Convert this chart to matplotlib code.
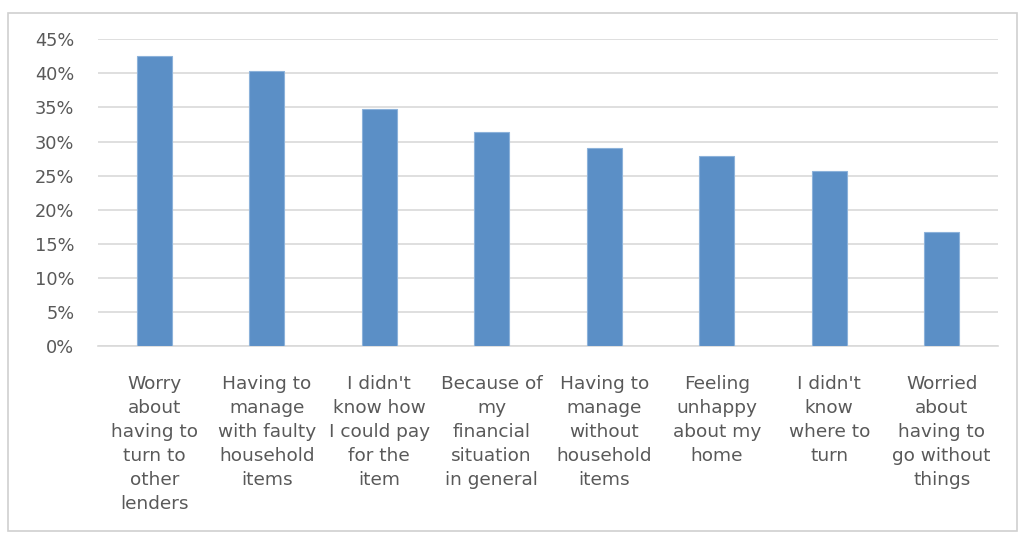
import matplotlib
matplotlib.use("Agg")
import matplotlib.pyplot as plt
from matplotlib.patches import Rectangle
from matplotlib.ticker import FuncFormatter

categories = [
    "Worry\nabout\nhaving to\nturn to\nother\nlenders",
    "Having to\nmanage\nwith faulty\nhousehold\nitems",
    "I didn't\nknow how\nI could pay\nfor the\nitem",
    "Because of\nmy\nfinancial\nsituation\nin general",
    "Having to\nmanage\nwithout\nhousehold\nitems",
    "Feeling\nunhappy\nabout my\nhome",
    "I didn't\nknow\nwhere to\nturn",
    "Worried\nabout\nhaving to\ngo without\nthings",
]
values = [0.426, 0.403, 0.348, 0.314, 0.291, 0.279, 0.257, 0.167]
yticks = [0, 0.05, 0.10, 0.15, 0.20, 0.25, 0.30, 0.35, 0.40, 0.45]

W, H = 1019, 533
fig = plt.figure(figsize=(W / 100, H / 100), dpi=100)
ax = fig.add_axes([98 / W, 1 - 346 / H, 900 / W, (346 - 39.3) / H])

text_color = "#595959"
grid_color = "#d9d9d9"

x = list(range(len(categories)))
ax.bar(x, values, width=0.31, color="#5b8fc6", edgecolor="#8cb2da", linewidth=0.8, zorder=3)

ax.set_xlim(-0.5, len(categories) - 0.5)
ax.set_ylim(0, 0.45)
ax.set_yticks(yticks)
ax.yaxis.set_major_formatter(FuncFormatter(lambda v, p: f"{round(v * 100)}%"))
ax.grid(axis="y", color=grid_color, linewidth=1.2, zorder=0)
ax.set_axisbelow(True)

for s in ["top", "right", "left"]:
    ax.spines[s].set_visible(False)
ax.spines["bottom"].set_color(grid_color)
ax.spines["bottom"].set_linewidth(1.2)

ax.set_xticks(x)
ax.set_xticklabels(categories, fontsize=13.3, color=text_color, linespacing=1.42,
                   ha="center", va="top")
ax.tick_params(axis="x", length=0, pad=21)
ax.tick_params(axis="y", length=0, pad=17, labelsize=12.8, labelcolor=text_color)

fig.patches.append(Rectangle((7.5 / W, 1 - 531 / H), (1017 - 7.5) / W, (531 - 13.3) / H,
                             transform=fig.transFigure, fill=False,
                             edgecolor="#d0d0d0", linewidth=1.2))

fig.savefig("out.png", dpi=100, facecolor="white")
